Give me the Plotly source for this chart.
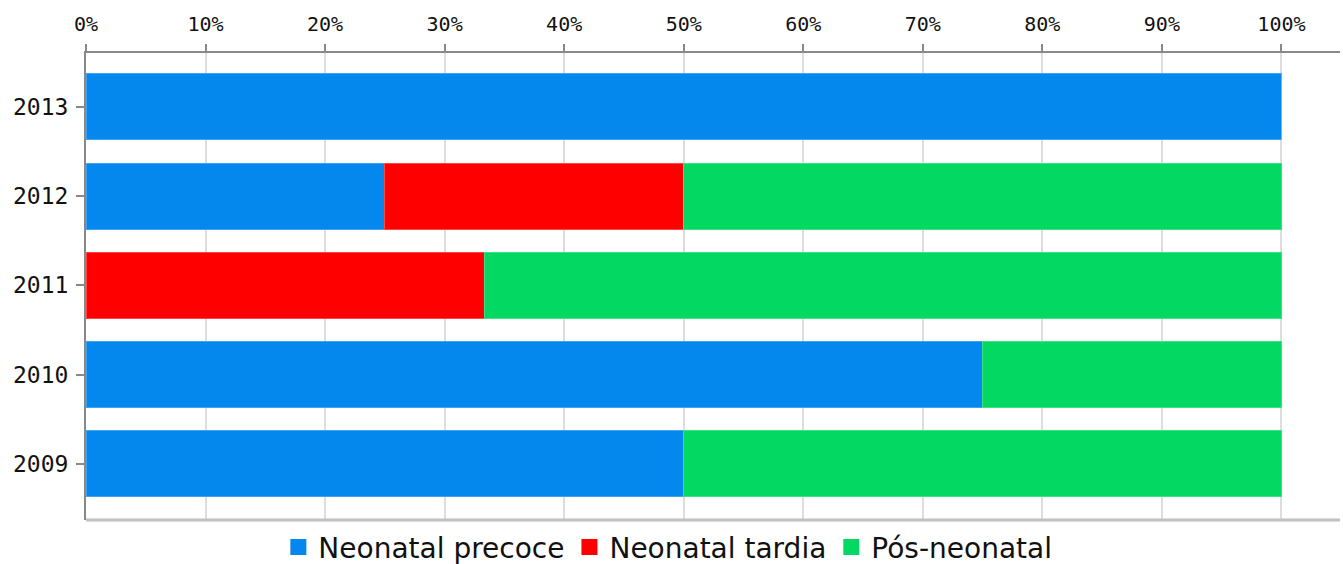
import plotly.graph_objects as go

years = ["2009", "2010", "2011", "2012", "2013"]
neonatal_precoce = [50, 75, 0, 25, 100]
neonatal_tardia = [0, 0, 33.33, 25, 0]
pos_neonatal = [50, 25, 66.67, 50, 0]
tick_vals = [0, 10, 20, 30, 40, 50, 60, 70, 80, 90, 100]
tick_text = [f"{v}%" for v in tick_vals]

series = [
    ("Neonatal precoce", neonatal_precoce, "#0588EE", "#3fa3f2"),
    ("Neonatal tardia", neonatal_tardia, "#FF0000", "#ff4545"),
    ("Pós-neonatal", pos_neonatal, "#03D863", "#3ee286"),
]

fig = go.Figure()
for name, vals, col, edge in series:
    fig.add_trace(go.Bar(
        y=years, x=vals, name=name, orientation="h", showlegend=False,
        marker=dict(color=col, line=dict(color=edge, width=1)),
    ))
# legend entries (square symbols)
for name, vals, col, edge in series:
    fig.add_trace(go.Scatter(
        x=[None], y=[None], mode="markers", name=name,
        marker=dict(symbol="square", size=20, color=col, line=dict(width=0)),
    ))

fig.update_layout(
    barmode="stack",
    bargap=0.26,
    width=1343, height=564,
    margin=dict(l=86, r=3, t=53, b=44, autoexpand=False),
    plot_bgcolor="white", paper_bgcolor="white",
    font=dict(family="DejaVu Sans Mono", size=20, color="#111"),
    legend=dict(
        orientation="h", x=0.464, xanchor="center", y=-0.005, yanchor="top",
        font=dict(family="DejaVu Sans", size=28, color="#111"),
        itemwidth=30, traceorder="normal", tracegroupgap=0,
    ),
    showlegend=True,
)
fig.update_xaxes(
    side="top", range=[0, 104.9], automargin=False,
    tickvals=tick_vals, ticktext=tick_text,
    showgrid=True, gridcolor="#dddddd", gridwidth=2,
    showline=True, linecolor="#888888", linewidth=2,
    ticks="outside", ticklen=7, tickcolor="#888888", tickwidth=2,
    zeroline=False, fixedrange=True, ticklabelstandoff=5,
    tickfont=dict(family="DejaVu Sans Mono", size=20, color="#111"),
)
fig.update_yaxes(
    type="category", categoryorder="array", categoryarray=years,
    range=[-0.63, 4.605], automargin=False,
    showgrid=False,
    showline=True, linecolor="#888888", linewidth=2,
    ticks="outside", ticklen=8, tickcolor="#888888", tickwidth=2,
    zeroline=False, ticklabelstandoff=3,
    tickfont=dict(family="DejaVu Sans Mono", size=23, color="#111"),
)
# bottom light border line
fig.add_shape(type="line", xref="paper", yref="paper", x0=0, x1=1, y0=0, y1=0,
              line=dict(color="#c0c0c0", width=3))

fig.write_html(
    "out.html",
    config={"displayModeBar": False},
    post_script="document.body.style.margin='0';document.body.style.overflow='hidden';",
)
